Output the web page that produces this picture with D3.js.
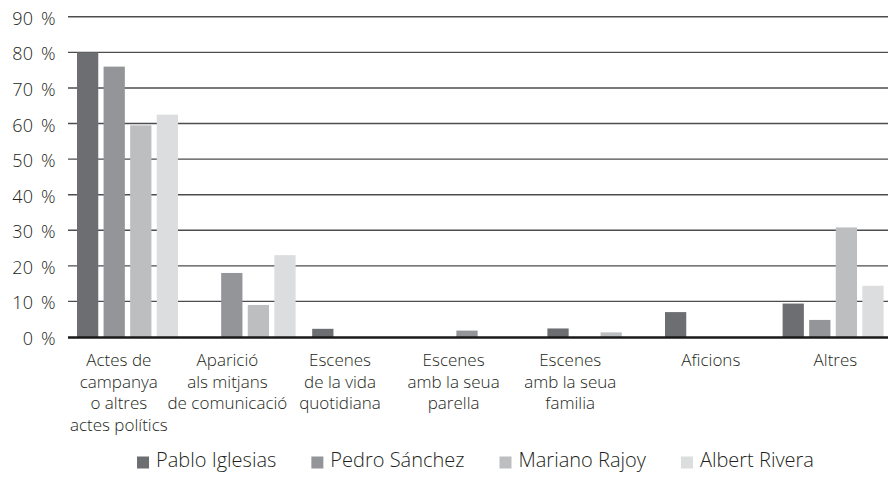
<!DOCTYPE html>
<html>
<head>
<meta charset="utf-8">
<script src="https://cdn.jsdelivr.net/npm/d3@7"></script>
<style>
  body { margin: 0; background: #fff; }
  text { font-family: "Open Sans", "Noto Sans", sans-serif; font-weight: 300; fill: #231f20; }
</style>
</head>
<body>
<div id="chart"></div>
<script>
// categories (each label split in lines the way the original wraps them)
const categories = [
  ["Actes de", "campanya", "o altres", "actes polítics"],
  ["Aparició", "als mitjans", "de comunicació"],
  ["Escenes", "de la vida", "quotidiana"],
  ["Escenes", "amb la seua", "parella"],
  ["Escenes", "amb la seua", "familia"],
  ["Aficions"],
  ["Altres"]
];
const seriesNames = ["Pablo Iglesias", "Pedro Sánchez", "Mariano Rajoy", "Albert Rivera"];
const pabloIglesias = [80, 0, 2.3, 0, 2.4, 7, 9.4];
const pedroSanchez = [76, 18, 0, 1.8, 0, 0, 4.8];
const marianoRajoy = [59.5, 9, 0, 0, 1.3, 0, 30.8];
const albertRivera = [62.5, 23, 0, 0, 0, 0, 14.4];
const yTicks = [0, 10, 20, 30, 40, 50, 60, 70, 80, 90];

const seriesValues = [pabloIglesias, pedroSanchez, marianoRajoy, albertRivera];
const colors = ["#6d6e71", "#939598", "#bcbec0", "#dcddde"];
// the original labels sit a bit left of their group centres
const labelShift = [-8, -17, -22, -26, -27, -4, 3];

const width = 888, height = 477;
const svg = d3.select('#chart').append('svg')
    .attr('width', width)
    .attr('height', height);

const catKeys = categories.map((c, i) => i);
const x0 = d3.scaleBand().domain(catKeys).range([68, 891.2]).padding(0);
const x1 = d3.scaleBand().domain(seriesNames).range([9, 110]).paddingInner(0.2);
const y = d3.scaleLinear().domain([0, 90]).range([337, 16.8]);

// gridlines
svg.append('g')
  .selectAll('line')
  .data(yTicks.filter(t => t > 0))
  .join('line')
    .attr('x1', 68).attr('x2', width)
    .attr('y1', d => y(d)).attr('y2', d => y(d))
    .style('stroke', '#4d4d4f')
    .style('stroke-width', 1.4);

// y axis labels
const yAxis = svg.append('g')
    .attr('transform', 'translate(56,0)')
    .call(d3.axisLeft(y).tickValues(yTicks).tickSize(0).tickPadding(0).tickFormat(d => d + ' %'));
yAxis.select('.domain').remove();
yAxis.selectAll('text')
    .attr('dy', '0.42em')
    .style('font-size', '18px')
    .style('word-spacing', '2.5px')
    .style('letter-spacing', '0.4px')
    .style('font-family', '"Open Sans", sans-serif')
    .attr('fill', '#231f20');

// bars
const groups = svg.append('g')
  .selectAll('g')
  .data(catKeys)
  .join('g')
    .attr('transform', d => `translate(${x0(d)},0)`);

groups.selectAll('rect')
  .data(i => seriesNames.map((s, k) => ({ s, k, v: seriesValues[k][i] })).filter(d => d.v > 0))
  .join('rect')
    .attr('x', d => x1(d.s))
    .attr('width', x1.bandwidth())
    .attr('y', d => y(d.v))
    .attr('height', d => y(0) - y(d.v))
    .style('fill', d => colors[d.k]);

// baseline
svg.append('line')
    .attr('x1', 68).attr('x2', width)
    .attr('y1', y(0) + 0.5).attr('y2', y(0) + 0.5)
    .style('stroke', '#1a1a1a')
    .style('stroke-width', 2.6);

// category labels
const catLabels = svg.append('g')
  .selectAll('text')
  .data(catKeys)
  .join('text')
    .attr('text-anchor', 'middle')
    .style('font-size', '17px')
    .attr('transform', d => `translate(${x0(d) + x0.bandwidth() / 2 + labelShift[d]},366)`);

catLabels.selectAll('tspan')
  .data(d => categories[d])
  .join('tspan')
    .attr('x', 0)
    .attr('y', (d, i) => i * 21.6)
    .text(d => d);

// legend
const legend = svg.append('g').attr('transform', 'translate(0,467)');
const items = legend.selectAll('g')
  .data(seriesNames)
  .join('g');
items.append('rect')
    .attr('y', -10.5)
    .attr('width', 12)
    .attr('height', 12)
    .style('fill', (d, i) => colors[i]);
items.append('text')
    .attr('x', 19)
    .style('font-size', '20px')
    .text(d => d);

let offset = 0;
const widths = [];
items.each(function() {
  widths.push(19 + d3.select(this).select('text').node().getComputedTextLength());
});
const total = d3.sum(widths) + 35 * (widths.length - 1);
let start = 475.5 - total / 2;
items.attr('transform', (d, i) => {
  const t = `translate(${start + offset},0)`;
  offset += widths[i] + 35;
  return t;
});
</script>
</body>
</html>
